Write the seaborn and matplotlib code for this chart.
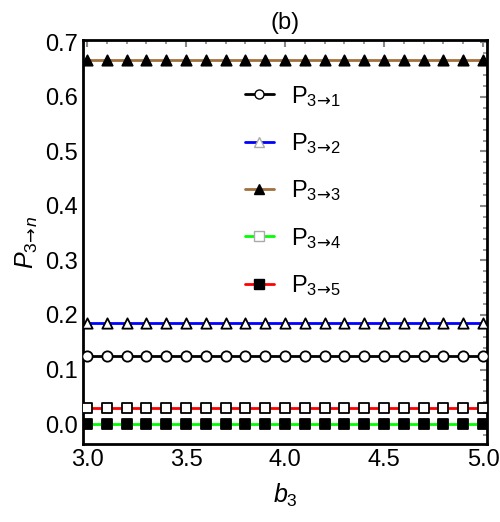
import numpy as np
import pandas as pd
import matplotlib
matplotlib.use('Agg')
import matplotlib.pyplot as plt
import seaborn as sns
from matplotlib.lines import Line2D
from matplotlib.ticker import MultipleLocator, FormatStrFormatter

# x grid of the markers
b3 = [3.0, 3.1, 3.2, 3.3, 3.4, 3.5, 3.6, 3.7, 3.8, 3.9, 4.0,
      4.1, 4.2, 4.3, 4.4, 4.5, 4.6, 4.7, 4.8, 4.9, 5.0]

labels = ['P31', 'P32', 'P33', 'P34', 'P35']
# constant level of each curve's line
line_level = [0.125, 0.185, 0.667, 0.0, 0.029]
# level where each curve's markers sit in the picture
marker_level = [0.125, 0.185, 0.667, 0.029, 0.0]

line_colors = ['black', '#0000ff', '#a0703c', '#00ff00', '#ff0000']
markers = ['o', '^', '^', 's', 's']
marker_faces = ['white', 'white', 'black', 'white', 'black']
legend_edges = ['black', '#aaaaaa', 'black', '#aaaaaa', 'black']
legend_text = [r'$\mathregular{P_{3\!\mathsf{\rightarrow}\!%d}}$' % k for k in range(1, 6)]

sns.set_style('white')
plt.rcParams['font.family'] = ['Liberation Sans', 'DejaVu Sans']
plt.rcParams['mathtext.fontset'] = 'custom'
plt.rcParams['mathtext.rm'] = 'Liberation Sans'
plt.rcParams['mathtext.it'] = 'Liberation Sans:italic'
plt.rcParams['mathtext.sf'] = 'DejaVu Sans'
plt.rcParams['text.color'] = 'black'
plt.rcParams['axes.labelcolor'] = 'black'

fig = plt.figure(figsize=(5, 5.22), dpi=100)
ax = fig.add_axes([0.166, 0.149, 0.808, 0.774])

rows = []
for i, lab in enumerate(labels):
    for x in b3:
        rows.append({'b3': x, 'series': lab, 'line': line_level[i], 'mark': marker_level[i]})
df = pd.DataFrame(rows)

for i, lab in enumerate(labels):
    d = df[df['series'] == lab]
    sns.lineplot(data=d, x='b3', y='line', color=line_colors[i], lw=2, ax=ax, zorder=2)
for i, lab in enumerate(labels):
    d = df[df['series'] == lab]
    sns.scatterplot(data=d, x='b3', y='mark', marker=markers[i], s=55,
                    facecolor=marker_faces[i], edgecolor='black', linewidth=1.3,
                    ax=ax, zorder=3)

ax.set_xlim(2.98, 5.02)
ax.set_ylim(-0.037, 0.704)
ax.xaxis.set_major_locator(MultipleLocator(0.5))
ax.xaxis.set_minor_locator(MultipleLocator(0.1))
ax.yaxis.set_major_locator(MultipleLocator(0.1))
ax.yaxis.set_minor_locator(MultipleLocator(0.02))
ax.xaxis.set_major_formatter(FormatStrFormatter('%.1f'))
ax.yaxis.set_major_formatter(FormatStrFormatter('%.1f'))
ax.tick_params(which='both', direction='in', top=True, right=True, color='#888888',
               labelsize=17, labelcolor='black')
ax.tick_params(which='major', length=5, width=1.5)
ax.tick_params(which='minor', length=3, width=1.2)
for sp in ax.spines.values():
    sp.set_linewidth(2)
    sp.set_color('black')

ax.set_xlabel(r'$b_3$', fontsize=18, labelpad=8)
ax.set_ylabel(r'$P_{3\!\mathsf{\rightarrow}\! n}$', fontsize=18, labelpad=4)
ax.set_title('(b)', fontsize=17, pad=8)

handles = [Line2D([0], [0], color=line_colors[i], lw=2, marker=markers[i],
                  markerfacecolor=marker_faces[i], markeredgecolor=legend_edges[i],
                  markersize=6.5) for i in range(5)]
ax.legend(handles, legend_text, loc='upper center', bbox_to_anchor=(0.52, 0.945),
          frameon=False, fontsize=17, handlelength=1.25, labelspacing=0.95,
          handletextpad=0.7)

fig.savefig('out.png', dpi=100)
